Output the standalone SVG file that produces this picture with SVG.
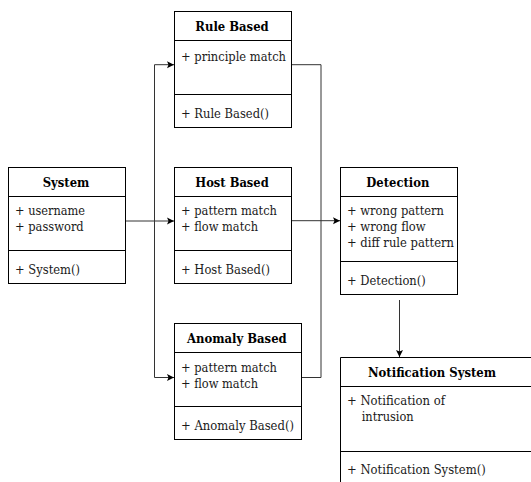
<svg xmlns="http://www.w3.org/2000/svg" width="531" height="482" viewBox="0 0 531 482">
  <style>
    .box { fill: #ffffff; stroke: #000000; stroke-width: 1; }
    .sep { stroke: #000000; stroke-width: 1; }
    .title { font-family: "DejaVu Serif", serif; font-size: 13.5px; font-weight: bold; fill: #000000; }
    .item { font-family: "DejaVu Serif", serif; font-size: 13.5px; fill: #1a1a1a; }
    .wire { fill: none; stroke: #333333; stroke-width: 1; }
  </style>
  <defs>
    <marker id="arrow" markerWidth="8" markerHeight="8" refX="7" refY="4" orient="auto" markerUnits="userSpaceOnUse">
      <path d="M0,0.5 L7,4 L0,7.5 L1.5,4 Z" fill="#000000"/>
    </marker>
  </defs>
  <rect width="531" height="482" fill="#ffffff"/>

  <!-- connectors -->
  <g id="connectors">
    <path class="wire" d="M125.7,221 H174" marker-end="url(#arrow)"/>
    <path class="wire" d="M154.5,377.5 V64.7 H174" marker-end="url(#arrow)"/>
    <path class="wire" d="M154.5,377.5 H174" marker-end="url(#arrow)"/>
    <path class="wire" d="M291.7,64.7 H321 V377.5 H301.7"/>
    <path class="wire" d="M291.7,220.7 H340" marker-end="url(#arrow)"/>
    <path class="wire" d="M399.5,300 V357" marker-end="url(#arrow)"/>
  </g>

  <!-- Rule Based -->
  <g id="rule-based">
    <rect class="box" x="174.5" y="11.5" width="117" height="116"/>
    <line class="sep" x1="174.5" y1="40.5" x2="291.5" y2="40.5"/>
    <line class="sep" x1="174.5" y1="94.5" x2="291.5" y2="94.5"/>
    <text class="title" x="195.3" y="30.5" textLength="73.4" lengthAdjust="spacingAndGlyphs">Rule Based</text>
    <text class="item" x="181" y="60.5" textLength="105" lengthAdjust="spacingAndGlyphs">+ principle match</text>
    <text class="item" x="181" y="117.5" textLength="88" lengthAdjust="spacingAndGlyphs">+ Rule Based()</text>
  </g>

  <!-- System -->
  <g id="system">
    <rect class="box" x="8.5" y="167.5" width="117" height="116"/>
    <line class="sep" x1="8.5" y1="196.5" x2="125.5" y2="196.5"/>
    <line class="sep" x1="8.5" y1="250.5" x2="125.5" y2="250.5"/>
    <text class="title" x="42.7" y="186.5" textLength="46.7" lengthAdjust="spacingAndGlyphs">System</text>
    <text class="item" x="15" y="215" textLength="70" lengthAdjust="spacingAndGlyphs">+ username</text>
    <text class="item" x="15" y="231" textLength="68.7" lengthAdjust="spacingAndGlyphs">+ password</text>
    <text class="item" x="15" y="273.5" textLength="65" lengthAdjust="spacingAndGlyphs">+ System()</text>
  </g>

  <!-- Host Based -->
  <g id="host-based">
    <rect class="box" x="174.5" y="167.5" width="117" height="116"/>
    <line class="sep" x1="174.5" y1="196.5" x2="291.5" y2="196.5"/>
    <line class="sep" x1="174.5" y1="250.5" x2="291.5" y2="250.5"/>
    <text class="title" x="195.3" y="186.5" textLength="73.4" lengthAdjust="spacingAndGlyphs">Host Based</text>
    <text class="item" x="181" y="215" textLength="96" lengthAdjust="spacingAndGlyphs">+ pattern match</text>
    <text class="item" x="181" y="231" textLength="77" lengthAdjust="spacingAndGlyphs">+ flow match</text>
    <text class="item" x="181" y="273.5" textLength="89" lengthAdjust="spacingAndGlyphs">+ Host Based()</text>
  </g>

  <!-- Detection -->
  <g id="detection">
    <rect class="box" x="340.5" y="167.5" width="117" height="127"/>
    <line class="sep" x1="340.5" y1="196.5" x2="457.5" y2="196.5"/>
    <line class="sep" x1="340.5" y1="261.5" x2="457.5" y2="261.5"/>
    <text class="title" x="366.3" y="186.5" textLength="63" lengthAdjust="spacingAndGlyphs">Detection</text>
    <text class="item" x="347" y="215" textLength="97" lengthAdjust="spacingAndGlyphs">+ wrong pattern</text>
    <text class="item" x="347" y="231" textLength="78.7" lengthAdjust="spacingAndGlyphs">+ wrong flow</text>
    <text class="item" x="347" y="247" textLength="107" lengthAdjust="spacingAndGlyphs">+ diff rule pattern</text>
    <text class="item" x="347" y="284.5" textLength="78.7" lengthAdjust="spacingAndGlyphs">+ Detection()</text>
  </g>

  <!-- Anomaly Based -->
  <g id="anomaly-based">
    <rect class="box" x="174.5" y="323.5" width="127" height="116"/>
    <line class="sep" x1="174.5" y1="352.5" x2="301.5" y2="352.5"/>
    <line class="sep" x1="174.5" y1="406.5" x2="301.5" y2="406.5"/>
    <text class="title" x="187" y="342.5" textLength="99.7" lengthAdjust="spacingAndGlyphs">Anomaly Based</text>
    <text class="item" x="181" y="371.5" textLength="96" lengthAdjust="spacingAndGlyphs">+ pattern match</text>
    <text class="item" x="181" y="387.5" textLength="77" lengthAdjust="spacingAndGlyphs">+ flow match</text>
    <text class="item" x="181" y="430" textLength="113" lengthAdjust="spacingAndGlyphs">+ Anomaly Based()</text>
  </g>

  <!-- Notification System -->
  <g id="notification-system">
    <path class="box" d="M340.5,490 V357.5 H540"/>
    <line class="sep" x1="340.5" y1="386.5" x2="540" y2="386.5"/>
    <line class="sep" x1="340.5" y1="451.5" x2="540" y2="451.5"/>
    <text class="title" x="368" y="376.5" textLength="128" lengthAdjust="spacingAndGlyphs">Notification System</text>
    <text class="item" x="347" y="405" textLength="98" lengthAdjust="spacingAndGlyphs">+ Notification of</text>
    <text class="item" x="361.7" y="421" textLength="52" lengthAdjust="spacingAndGlyphs">intrusion</text>
    <text class="item" x="347" y="474" textLength="138.7" lengthAdjust="spacingAndGlyphs">+ Notification System()</text>
  </g>
</svg>
